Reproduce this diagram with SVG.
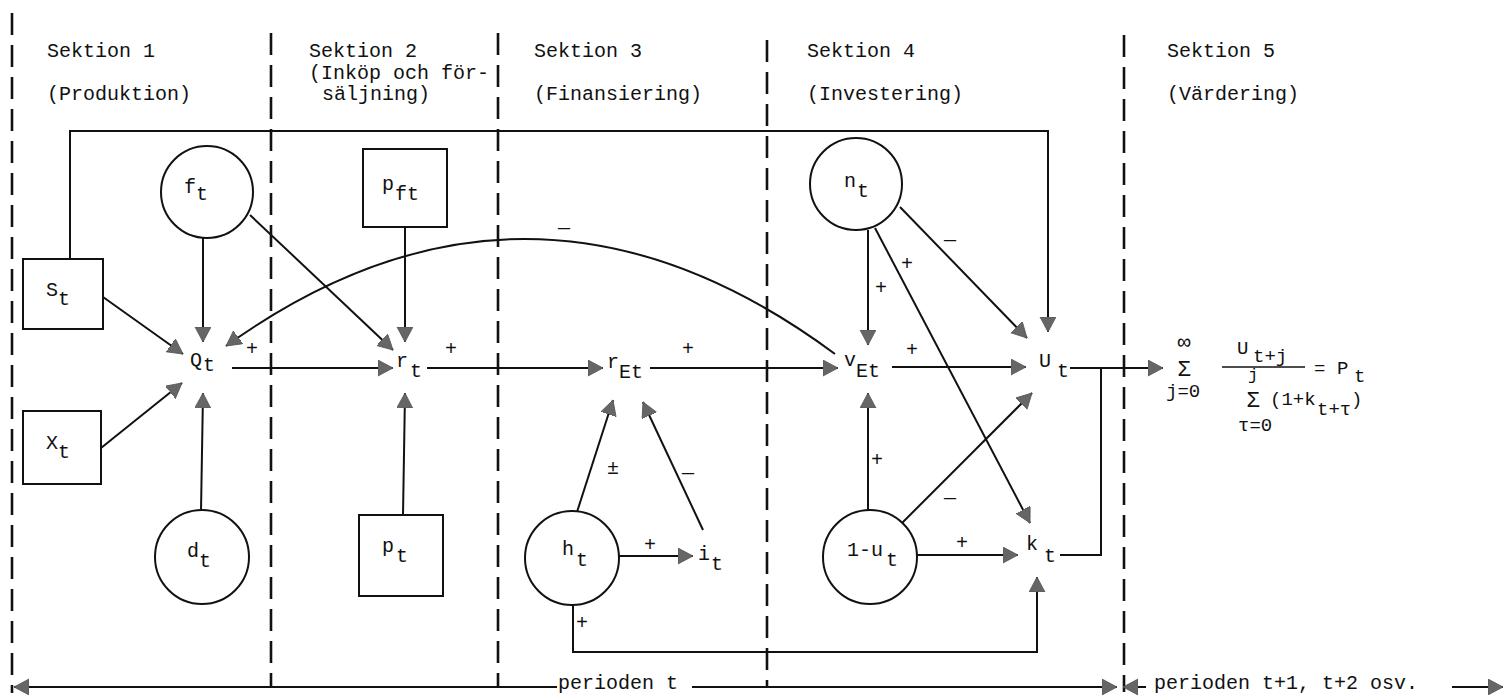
<svg xmlns="http://www.w3.org/2000/svg" width="1503" height="695" viewBox="0 0 1503 695">
<defs>
<marker id="ah" markerUnits="userSpaceOnUse" markerWidth="18" markerHeight="18" refX="15" refY="8" orient="auto">
<path d="M0,0 L15,8 L0,16 z" fill="#666" stroke="#555" stroke-width="0.8"/>
</marker>
<style>
text{font-family:"Liberation Mono","DejaVu Sans Mono",monospace;font-size:20px;fill:#111}
.ln{fill:none;stroke:#111;stroke-width:2}
.ar{fill:none;stroke:#111;stroke-width:2;marker-end:url(#ah)}
.dash{stroke:#111;stroke-width:2.6;stroke-dasharray:22 10;fill:none}
.nd{fill:#fff;stroke:#111;stroke-width:2}
.sg{text-anchor:middle}
.fr{stroke:#111;stroke-width:1.5}
#formula text{font-size:19px}
#formula text.big{font-size:22px}
#formula text.sm{font-size:17px}
</style>
</defs>
<rect width="1503" height="695" fill="#fff"/>

<g id="sections">
<path class="dash" d="M12,13 V693 M271,33 V687 M498,33 V687 M767,40 V687 M1124,35 V692"/>
<text x="47" y="57">Sektion 1</text>
<text x="47" y="100">(Produktion)</text>
<text x="309" y="57">Sektion 2</text>
<text x="309" y="79">(Inköp och för-</text>
<text x="322" y="100">säljning)</text>
<text x="534" y="57">Sektion 3</text>
<text x="534" y="100">(Finansiering)</text>
<text x="807" y="57">Sektion 4</text>
<text x="807" y="100">(Investering)</text>
<text x="1167" y="57">Sektion 5</text>
<text x="1167" y="100">(Värdering)</text>
</g>

<g id="connectors">
<polyline class="ar" points="70,259 70,131 1048,131 1048,332"/>
<line class="ar" x1="103" y1="297" x2="183" y2="354"/>
<line class="ar" x1="101" y1="448" x2="182" y2="383"/>
<line class="ar" x1="203" y1="238" x2="203" y2="342"/>
<line class="ar" x1="201" y1="511" x2="203" y2="393"/>
<path class="ar" d="M835,354 Q530,128 226,346"/>
<line class="ar" x1="232" y1="368" x2="393" y2="368"/>
<line class="ar" x1="250" y1="215" x2="393" y2="350"/>
<line class="ar" x1="405" y1="227" x2="405" y2="342"/>
<line class="ar" x1="403" y1="515" x2="405" y2="393"/>
<line class="ar" x1="427" y1="368" x2="603" y2="368"/>
<line class="ar" x1="650" y1="368" x2="838" y2="368"/>
<line class="ar" x1="577" y1="512" x2="613" y2="400"/>
<line class="ar" x1="703" y1="530" x2="643" y2="402"/>
<line class="ar" x1="619" y1="556" x2="693" y2="556"/>
<polyline class="ar" points="573,605 573,652 1037,652 1037,577"/>
<line class="ar" x1="868" y1="230" x2="868" y2="345"/>
<line class="ar" x1="875" y1="228" x2="1030" y2="523"/>
<line class="ar" x1="900" y1="207" x2="1027" y2="338"/>
<line class="ar" x1="892" y1="367" x2="1026" y2="367"/>
<line class="ar" x1="868" y1="511" x2="868" y2="393"/>
<line class="ar" x1="902" y1="523" x2="1032" y2="393"/>
<line class="ar" x1="917" y1="555" x2="1018" y2="555"/>
<polyline class="ln" points="1060,555 1101,555 1101,368"/>
<line class="ar" x1="1070" y1="368" x2="1163" y2="368"/>
<line class="ar" x1="557" y1="687" x2="14" y2="687"/>
<line class="ar" x1="692" y1="687" x2="1117" y2="687"/>
<line class="ar" x1="1146" y1="687" x2="1123" y2="687"/>
<line class="ar" x1="1452" y1="687" x2="1503" y2="687"/>
</g>

<g id="signs">
<text class="sg" x="252" y="355">+</text>
<text class="sg" x="451" y="355">+</text>
<text class="sg" x="688" y="355">+</text>
<text class="sg" x="912" y="356">+</text>
<text class="sg" x="881" y="294">+</text>
<text class="sg" x="907" y="270">+</text>
<text class="sg" x="950" y="246">—</text>
<text class="sg" x="564" y="234">—</text>
<text class="sg" x="877" y="466">+</text>
<text class="sg" x="950" y="504">—</text>
<text class="sg" x="962" y="549">+</text>
<text class="sg" x="650" y="551">+</text>
<text class="sg" x="613" y="474">±</text>
<text class="sg" x="688" y="479">—</text>
<text class="sg" x="582" y="629">+</text>
</g>

<g id="node-S"><rect class="nd" x="23" y="259" width="80" height="70"/><text x="46" y="296">S</text><text x="58" y="305">t</text></g>
<g id="node-X"><rect class="nd" x="23" y="411" width="78" height="73"/><text x="46" y="449">X</text><text x="58" y="458">t</text></g>
<g id="node-f"><circle class="nd" cx="207" cy="192" r="46"/><text x="184" y="193">f</text><text x="196" y="200">t</text></g>
<g id="node-Q"><text x="190" y="366">Q</text><text x="203" y="371">t</text></g>
<g id="node-d"><circle class="nd" cx="202" cy="557" r="47"/><text x="187" y="557">d</text><text x="199" y="567">t</text></g>
<g id="node-pft"><rect class="nd" x="363" y="149" width="84" height="78"/><text x="382" y="190">p</text><text x="395" y="200">ft</text></g>
<g id="node-r"><text x="396" y="367">r</text><text x="410" y="377">t</text></g>
<g id="node-pt"><rect class="nd" x="359" y="515" width="84" height="81"/><text x="382" y="552">p</text><text x="396" y="562">t</text></g>
<g id="node-rE"><text x="607" y="368">r</text><text x="619" y="378">Et</text></g>
<g id="node-h"><circle class="nd" cx="572" cy="558" r="47"/><text x="562" y="555">h</text><text x="576" y="566">t</text></g>
<g id="node-i"><text x="698" y="560">i</text><text x="711" y="570">t</text></g>
<g id="node-n"><circle class="nd" cx="856" cy="184" r="46"/><text x="844" y="187">n</text><text x="857" y="197">t</text></g>
<g id="node-vE"><text x="844" y="366">v</text><text x="856" y="377">Et</text></g>
<g id="node-u"><circle class="nd" cx="870" cy="557" r="47"/><text x="847" y="556">1-u</text><text x="886" y="566">t</text></g>
<g id="node-U"><text x="1039" y="367">U</text><text x="1057" y="377">t</text></g>
<g id="node-k"><text x="1026" y="550">k</text><text x="1044" y="562">t</text></g>

<g id="formula">
<text class="sg big" x="1184" y="349">∞</text>
<text class="sg big" x="1184" y="376">Σ</text>
<text x="1166" y="397">j=0</text>
<text x="1237" y="354">U</text>
<text x="1253" y="362">t+j</text>
<line class="fr" x1="1222" y1="367" x2="1305" y2="367"/>
<text class="sg sm" x="1253" y="380">j</text>
<text class="sg big" x="1253" y="407">Σ</text>
<text x="1270" y="405">(1+k</text>
<text x="1317" y="415">t+τ</text>
<text x="1351" y="405">)</text>
<text x="1238" y="431">τ=0</text>
<text x="1314" y="374">=</text>
<text x="1337" y="374">P</text>
<text x="1354" y="382">t</text>
</g>

<g id="period-labels">
<text x="558" y="689">perioden t</text>
<text x="1154" y="689">perioden t+1, t+2 osv.</text>
</g>
</svg>
